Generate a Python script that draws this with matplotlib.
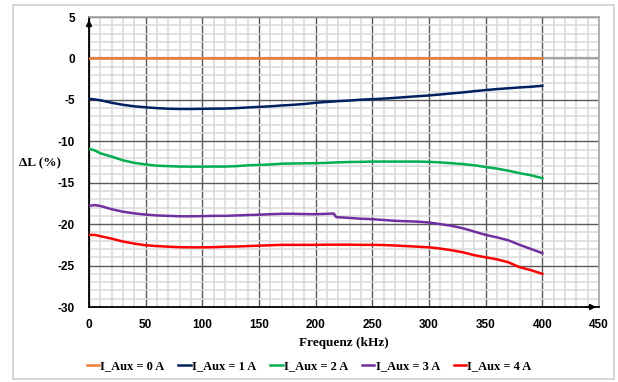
import matplotlib
matplotlib.use("Agg")
import matplotlib.pyplot as plt
from matplotlib.ticker import MultipleLocator

plt.rcParams["axes.unicode_minus"] = False

freq = [0, 5, 10, 20, 30, 40, 50, 60, 70, 80, 90, 100, 110, 120, 130, 140, 150, 160,
        170, 180, 190, 200, 210, 216, 218, 230, 240, 250, 260, 270, 280, 290, 300, 310,
        320, 330, 340, 350, 360, 370, 380, 390, 400]

i0 = [0.0] * len(freq)
i1 = [-4.87, -4.95, -5.05, -5.35, -5.6, -5.78, -5.9, -6.0, -6.07, -6.1, -6.1, -6.08,
      -6.06, -6.05, -6.0, -5.92, -5.85, -5.78, -5.68, -5.6, -5.5, -5.35, -5.25, -5.2,
      -5.17, -5.08, -4.98, -4.92, -4.85, -4.76, -4.66, -4.56, -4.47, -4.35, -4.22,
      -4.1, -3.95, -3.82, -3.7, -3.6, -3.5, -3.42, -3.3]
i2 = [-10.9, -11.1, -11.45, -11.85, -12.3, -12.6, -12.8, -12.95, -13.0, -13.05,
      -13.06, -13.06, -13.05, -13.05, -13.0, -12.9, -12.85, -12.8, -12.7, -12.68,
      -12.66, -12.65, -12.6, -12.57, -12.55, -12.5, -12.48, -12.45, -12.45, -12.45,
      -12.45, -12.45, -12.48, -12.55, -12.65, -12.75, -12.9, -13.1, -13.3, -13.55,
      -13.85, -14.1, -14.45]
i3 = [-17.8, -17.7, -17.8, -18.2, -18.5, -18.7, -18.85, -18.95, -19.0, -19.05,
      -19.05, -19.03, -19.0, -19.0, -18.95, -18.9, -18.86, -18.8, -18.75, -18.75,
      -18.78, -18.8, -18.75, -18.72, -19.15, -19.25, -19.35, -19.4, -19.5, -19.6,
      -19.65, -19.7, -19.8, -20.0, -20.2, -20.5, -20.9, -21.3, -21.6, -21.95, -22.5,
      -23.0, -23.5]
i4 = [-21.3, -21.3, -21.45, -21.75, -22.1, -22.35, -22.55, -22.65, -22.72, -22.78,
      -22.8, -22.8, -22.78, -22.72, -22.7, -22.65, -22.6, -22.55, -22.5, -22.5,
      -22.5, -22.5, -22.48, -22.48, -22.48, -22.48, -22.5, -22.5, -22.52, -22.58,
      -22.65, -22.72, -22.8, -22.95, -23.15, -23.4, -23.75, -24.0, -24.25, -24.6,
      -25.2, -25.55, -26.0]

series = [i0, i1, i2, i3, i4]
labels = ["I_Aux = 0 A", "I_Aux = 1 A", "I_Aux = 2 A", "I_Aux = 3 A", "I_Aux = 4 A"]
colors = ["#ed7d31", "#002060", "#00b050", "#7030a0", "#ff0000"]

serif = ["Liberation Serif", "DejaVu Serif"]
sans = ["Liberation Sans", "DejaVu Sans"]

fig = plt.figure(figsize=(6.18, 3.82), dpi=100)
fig.patches.append(plt.Rectangle((13 / 618, 1 - 379 / 382), 601 / 618, 374 / 382,
                                 transform=fig.transFigure, fill=False,
                                 edgecolor="#d0d0d0", linewidth=1.2))
ax = fig.add_axes([89 / 618, 1 - 307 / 382, 510 / 618, 290 / 382])

ax.set_xlim(0, 450)
ax.set_ylim(-30, 5)
ax.xaxis.set_major_locator(MultipleLocator(50))
ax.xaxis.set_minor_locator(MultipleLocator(10))
ax.yaxis.set_major_locator(MultipleLocator(5))
ax.yaxis.set_minor_locator(MultipleLocator(1))
ax.grid(which="minor", color="#d9d9d9", linewidth=1.1)
ax.grid(which="major", color="#595959", linewidth=1.0)
ax.set_axisbelow(True)
ax.axhline(0, color="#a6a6a6", linewidth=1.6, zorder=1.5)

for y, lab, c in zip(series, labels, colors):
    ax.plot(freq, y, color=c, linewidth=1.8, label=lab, zorder=3)

for s in ["top", "right"]:
    ax.spines[s].set_color("#a6a6a6")
    ax.spines[s].set_linewidth(1.2)
for s in ["left", "bottom"]:
    ax.spines[s].set_color("black")
    ax.spines[s].set_linewidth(1.3)

ax.annotate("", xy=(0, 1.0), xytext=(0, 0.97), xycoords="axes fraction",
            arrowprops=dict(arrowstyle="-|>", color="black", lw=1.3, mutation_scale=8),
            annotation_clip=False)
ax.annotate("", xy=(1.0, 0), xytext=(0.97, 0), xycoords="axes fraction",
            arrowprops=dict(arrowstyle="-|>", color="black", lw=1.3, mutation_scale=8),
            annotation_clip=False)

ax.tick_params(which="both", length=0)
ax.tick_params(axis="y", pad=10)
ax.tick_params(axis="x", pad=9)
for t in ax.get_xticklabels() + ax.get_yticklabels():
    t.set_fontfamily(sans)
    t.set_fontweight("bold")
    t.set_fontsize(8.5)

ax.set_xlabel("Frequenz (kHz)", fontfamily=serif, fontweight="bold", fontsize=9.5,
              labelpad=4)
fig.text(40 / 618, 1 - 163 / 382, "ΔL (%)", fontfamily=serif, fontweight="bold",
         fontsize=9.5, ha="center", va="center")

fig.legend(loc="center", bbox_to_anchor=(0.5, 1 - 366 / 382), ncol=5, frameon=False,
           prop=dict(family=serif, weight="bold", size=9), handlelength=1.0,
           handletextpad=0.1, columnspacing=1.1)

fig.savefig("out.png", dpi=100)
